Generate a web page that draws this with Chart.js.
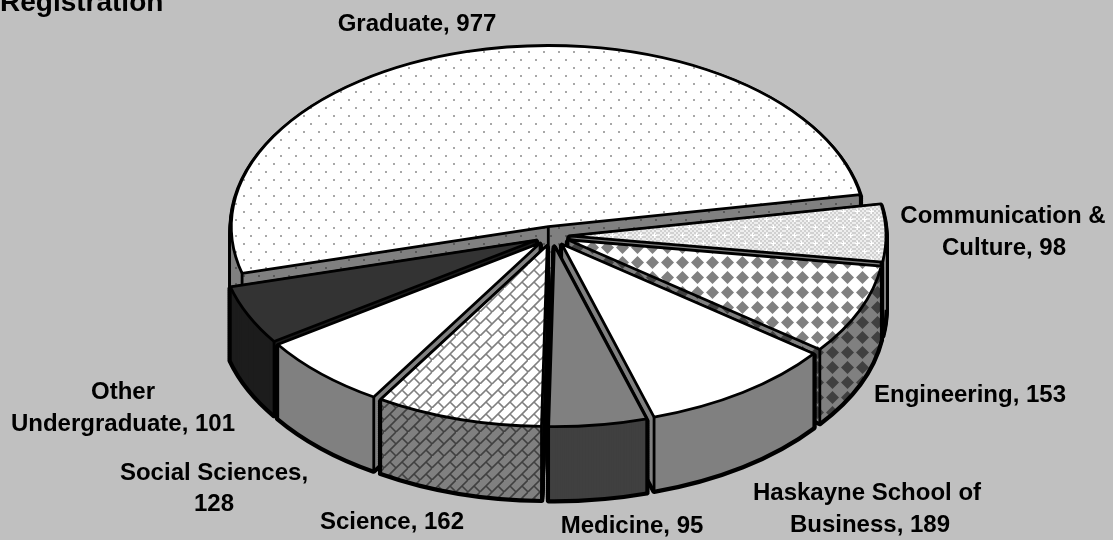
<!DOCTYPE html>
<html>
<head>
<meta charset="utf-8">
<title>Registration</title>
<script src="https://cdn.jsdelivr.net/npm/chart.js@4"></script>
<style>
  html, body { margin: 0; padding: 0; background: #c0c0c0; overflow: hidden; }
  #box { width: 1113px; height: 540px; }
</style>
</head>
<body>
<div id="box"><canvas id="pie"></canvas></div>
<script>
const categories = ['Graduate', 'Communication & Culture', 'Engineering', 'Haskayne School of Business',
  'Medicine', 'Science', 'Social Sciences', 'Other Undergraduate'];
const values = [977, 98, 153, 189, 95, 162, 128, 101];

// text lines of each data label: [text, centre x, baseline y]
const labelLines = [
  [['Graduate, 977', 417, 31]],
  [['Communication &', 1003, 223], ['Culture, 98', 1004, 255]],
  [['Engineering, 153', 970, 402]],
  [['Haskayne School of', 867, 500], ['Business, 189', 870, 532]],
  [['Medicine, 95', 632, 533]],
  [['Science, 162', 392, 529]],
  [['Social Sciences,', 214, 480], ['128', 214, 511]],
  [['Other', 123, 399], ['Undergraduate, 101', 123, 431]]
];

// painter's order, back to front
const drawOrder = [0, 1, 7, 2, 6, 3, 5, 4];

const FONT = 'bold 24px "Liberation Sans", Arial, sans-serif';
const LINE = 2.8;
const view = { cx: 552, cy: 236, rx: 317, ry: 181, depth: 74, explode: 17 };

function tile(w, h, paint) {
  const c = document.createElement('canvas');
  c.width = w;
  c.height = h;
  paint(c.getContext('2d'));
  return document.createElement('canvas').getContext('2d').createPattern(c, 'repeat');
}

function dots(base, dot) {
  return tile(15, 16, g => {
    g.fillStyle = base;
    g.fillRect(0, 0, 15, 16);
    g.fillStyle = dot;
    g.fillRect(3, 3, 2, 2);
    g.fillRect(10, 11, 2, 2);
  });
}

function fineCheck(a, b, plus) {
  return tile(14, 16, g => {
    for (let y = 0; y < 16; y += 2) {
      for (let x = 0; x < 14; x += 2) {
        g.fillStyle = (x + y) % 4 ? a : b;
        g.fillRect(x, y, 2, 2);
      }
    }
    g.fillStyle = plus;
    [[3, 3], [10, 11]].forEach(p => {
      g.fillRect(p[0] - 2, p[1], 5, 1);
      g.fillRect(p[0], p[1] - 2, 1, 5);
    });
  });
}

function diamonds(base, mark) {
  return tile(15, 15, g => {
    g.fillStyle = base;
    g.fillRect(0, 0, 15, 15);
    g.fillStyle = mark;
    g.beginPath();
    g.moveTo(1, 7.5);
    g.lineTo(7.5, 1);
    g.lineTo(14, 7.5);
    g.lineTo(7.5, 14);
    g.closePath();
    g.fill();
  });
}

function bricks(base, line) {
  return tile(24, 24, g => {
    g.fillStyle = base;
    g.fillRect(0, 0, 24, 24);
    g.strokeStyle = line;
    g.lineWidth = 1.6;
    g.beginPath();
    [[0, 12, 12, 0], [0, 24, 24, 0], [12, 24, 24, 12]].forEach(s => {
      g.moveTo(s[0], s[1]);
      g.lineTo(s[2], s[3]);
    });
    [[6, 6], [18, 18], [18, 6], [6, 18]].forEach(s => {
      g.moveTo(s[0], s[1]);
      g.lineTo(s[0] + 6, s[1] + 6);
    });
    g.stroke();
  });
}

const topFills = [
  dots('#ffffff', '#a8a8a8'),
  fineCheck('#eeeeee', '#d0d0d0', '#ffffff'),
  diamonds('#ffffff', '#808080'),
  '#ffffff',
  '#808080',
  bricks('#ffffff', '#808080'),
  '#ffffff',
  '#333333'
];
const wallFills = [
  dots('#808080', '#585858'),
  '#808080',
  diamonds('#808080', '#404040'),
  '#808080',
  '#404040',
  bricks('#808080', '#404040'),
  '#808080',
  '#1c1c1c'
];

// arc fill goes through the element itself, pattern is pinned to the screen
function fillArc(ctx, el, fill) {
  if (typeof fill !== 'string') fill.setTransform(ctx.getTransform().inverse());
  const saved = el.options;
  el.options = { offset: 0, spacing: 0, circular: true, borderWidth: 0, borderAlign: 'center', borderRadius: 0, backgroundColor: fill };
  el.draw(ctx);
  el.options = saved;
}

function arcPath(ctx, el) {
  ctx.beginPath();
  ctx.moveTo(el.x, el.y);
  ctx.arc(el.x, el.y, el.outerRadius, el.startAngle, el.endAngle);
  ctx.closePath();
}

const pie3d = {
  id: 'pie3d',
  beforeDatasetsDraw(chart) {
    const ctx = chart.ctx;
    const arcs = chart.getDatasetMeta(0).data;
    const R = arcs[0].outerRadius;
    const sx = view.rx / R;
    const sy = view.ry / R;
    const e = view.explode / sx;

    // moves into the flattened pie plane, one slice at a given height
    function place(el, d) {
      const mid = (el.startAngle + el.endAngle) / 2;
      ctx.translate(view.cx, view.cy + d);
      ctx.scale(sx, sy);
      ctx.translate(-el.x, -el.y);
      ctx.translate(Math.cos(mid) * e, Math.sin(mid) * e);
    }
    function strokeAt(el, d, width) {
      ctx.save();
      place(el, d);
      arcPath(ctx, el);
      ctx.restore();
      ctx.lineWidth = width;
      ctx.strokeStyle = '#000';
      ctx.lineJoin = 'round';
      ctx.stroke();
    }
    function point(el, angle, d, radius) {
      const mid = (el.startAngle + el.endAngle) / 2;
      return [view.cx + sx * (Math.cos(angle) * radius + Math.cos(mid) * e),
        view.cy + d + sy * (Math.sin(angle) * radius + Math.sin(mid) * e)];
    }
    function edge(p, q) {
      ctx.beginPath();
      ctx.moveTo(p[0], p[1]);
      ctx.lineTo(q[0], q[1]);
      ctx.lineWidth = LINE;
      ctx.strokeStyle = '#000';
      ctx.stroke();
    }
    // lower rim only on the near half of the pie, plus the bottom of a cut face
    // only when that face looks at us
    function strokeBottom(el) {
      ctx.lineWidth = LINE;
      ctx.strokeStyle = '#000';
      [-2, 0, 2, 4].forEach(k => {
        const from = Math.max(el.startAngle, k * Math.PI);
        const to = Math.min(el.endAngle, (k + 1) * Math.PI);
        if (from >= to) return;
        ctx.save();
        place(el, view.depth);
        ctx.beginPath();
        ctx.arc(el.x, el.y, el.outerRadius, from, to);
        ctx.restore();
        ctx.stroke();
      });
      const apex = point(el, 0, view.depth, 0);
      if (Math.cos(el.startAngle) < 0) edge(apex, point(el, el.startAngle, view.depth, el.outerRadius));
      if (Math.cos(el.endAngle) > 0) edge(apex, point(el, el.endAngle, view.depth, el.outerRadius));
    }

    drawOrder.forEach(i => {
      const el = arcs[i];
      // silhouette of the extruded slice
      for (let d = view.depth; d > 0; d -= 2) strokeAt(el, d, LINE * 2);
      for (let d = view.depth; d > 0; d--) {
        ctx.save();
        place(el, d);
        fillArc(ctx, el, wallFills[i]);
        ctx.restore();
      }
      strokeBottom(el);
      // upright edges, the top face hides whatever should not show
      [el.startAngle, el.endAngle].forEach(a => edge(point(el, a, 0, el.outerRadius), point(el, a, view.depth, el.outerRadius)));
      edge(point(el, 0, 0, 0), point(el, 0, view.depth, 0));

      ctx.save();
      place(el, 0);
      fillArc(ctx, el, topFills[i]);
      ctx.restore();
      strokeAt(el, 0, LINE);
    });
    return false;
  },
  afterDraw(chart) {
    const ctx = chart.ctx;
    ctx.save();
    ctx.fillStyle = '#000';
    ctx.textBaseline = 'alphabetic';
    ctx.textAlign = 'center';
    ctx.font = FONT;
    labelLines.forEach(lines => lines.forEach(l => ctx.fillText(l[0], l[1], l[2])));
    ctx.textAlign = 'left';
    ctx.font = 'bold 28px "Liberation Sans", Arial, sans-serif';
    ctx.fillText('Registration', 0, 11);
    ctx.restore();
  }
};

new Chart(document.getElementById('pie').getContext('2d'), {
  type: 'pie',
  data: {
    labels: categories,
    datasets: [{ data: values, backgroundColor: topFills, borderWidth: 0 }]
  },
  options: {
    responsive: true,
    maintainAspectRatio: false,
    animation: false,
    rotation: 255,
    events: [],
    plugins: { legend: { display: false }, tooltip: { enabled: false } }
  },
  plugins: [pie3d]
});
</script>
</body>
</html>
